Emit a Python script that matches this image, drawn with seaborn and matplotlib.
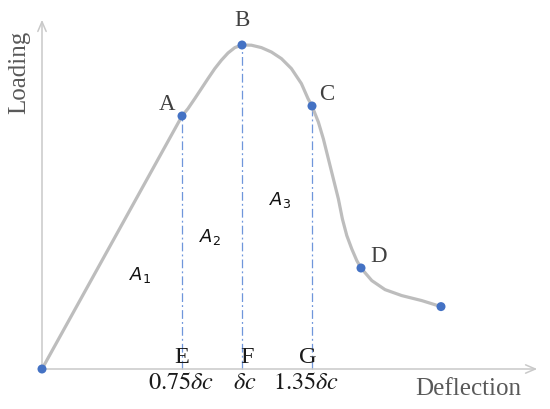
import matplotlib
matplotlib.use("Agg")
import matplotlib.pyplot as plt
import numpy as np
import pandas as pd
import seaborn as sns

sns.set_style("white")
plt.rcParams["font.family"] = ["Liberation Serif", "DejaVu Serif"]
plt.rcParams["mathtext.fontset"] = "stix"

# load-deflection curve (deflection in units of delta_c)
deflection = [0.0, 0.700, 0.730, 0.764, 0.797, 0.830, 0.864, 0.897, 0.930, 0.964,
              1.000, 1.047, 1.097, 1.147, 1.197, 1.247, 1.297, 1.330, 1.350,
              1.382, 1.407, 1.432, 1.457, 1.482, 1.502, 1.524, 1.549, 1.574,
              1.595, 1.649, 1.715, 1.799, 1.899, 1.995]
loading = [0.0, 1.265, 1.302, 1.352, 1.402, 1.452, 1.502, 1.544, 1.580, 1.607,
           1.620, 1.619, 1.607, 1.585, 1.552, 1.502, 1.427, 1.352, 1.315,
           1.234, 1.150, 1.050, 0.950, 0.850, 0.750, 0.667, 0.600, 0.542,
           0.505, 0.442, 0.397, 0.367, 0.342, 0.312]

# marked points
pt_names = ["O", "A", "B", "C", "D", "end"]
pt_x = [0.0, 0.70, 1.00, 1.35, 1.595, 1.995]
pt_y = [0.0, 1.265, 1.62, 1.315, 0.505, 0.312]

# vertical reference lines (A, B, C) and their x labels
ref_names = ["E", "F", "G"]
ref_ticks = [r"$0.75\delta c$", r"$\delta c$", r"$1.35\delta c$"]
area_names = [r"$A_1$", r"$A_2$", r"$A_3$"]

curve = pd.DataFrame({"x": deflection, "y": loading})
pts = pd.DataFrame({"name": pt_names, "x": pt_x, "y": pt_y})

fig = plt.figure(figsize=(5.5, 4.1), dpi=100)
ax = fig.add_axes([0, 0, 1, 1])
ax.set_xlim(-0.21, 2.54)
ax.set_ylim(-0.2, 1.85)
ax.axis("off")

axis_col = "#c9c9c9"
ax.annotate("", xy=(0, 1.76), xytext=(0, -0.005),
            arrowprops=dict(arrowstyle="->,head_length=0.7,head_width=0.3", color=axis_col, lw=1.1))
ax.annotate("", xy=(2.49, 0.0), xytext=(-0.005, 0.0),
            arrowprops=dict(arrowstyle="->,head_length=0.7,head_width=0.3", color=axis_col, lw=1.1))

sns.lineplot(data=curve, x="x", y="y", ax=ax, color="#bdbdbd", lw=2.3,
             sort=False, solid_joinstyle="round", solid_capstyle="round")

blue = "#4472c4"
for i in range(1, 4):
    ax.plot([pt_x[i], pt_x[i]], [0, pt_y[i]], color="#6f96db", lw=0.9,
            ls=(0, (7, 2.5, 1.5, 2.5)), zorder=1)

sns.scatterplot(data=pts, x="x", y="y", ax=ax, color=blue, s=42,
                edgecolor="none", zorder=5, clip_on=False)

txt = "#404040"
ax.text(pt_x[1] - 0.075, pt_y[1] + 0.065, "A", fontsize=16.5, color=txt, ha="center", va="center")
ax.text(pt_x[2], pt_y[2] + 0.13, "B", fontsize=16.5, color=txt, ha="center", va="center")
ax.text(pt_x[3] + 0.075, pt_y[3] + 0.065, "C", fontsize=16.5, color=txt, ha="center", va="center")
ax.text(pt_x[4] + 0.09, pt_y[4] + 0.06, "D", fontsize=16.5, color=txt, ha="center", va="center")

ref_off = [0.0, 0.025, -0.02]
tick_off = [-0.005, 0.015, -0.03]
for i in range(3):
    ax.text(pt_x[i + 1] + ref_off[i], 0.063, ref_names[i], fontsize=17.5, color="#1a1a1a",
            ha="center", va="center")
    ax.text(pt_x[i + 1] + tick_off[i], -0.07, ref_ticks[i], fontsize=17.5,
            color="#1a1a1a", ha="center", va="center")

area_pos = [(0.49, 0.475), (0.84, 0.665), (1.19, 0.85)]
for lbl, (x, y) in zip(area_names, area_pos):
    ax.text(x, y, lbl, fontsize=13, color="#111111", ha="center", va="center",
            math_fontfamily="dejavusans")

ax.text(2.13, -0.095, "Deflection", fontsize=18, color="#595959", ha="center", va="center")
ax.text(-0.115, 1.49, "Loading", fontsize=18, color="#595959", ha="center", va="center",
        rotation=90)

fig.savefig("out.png", dpi=100)
